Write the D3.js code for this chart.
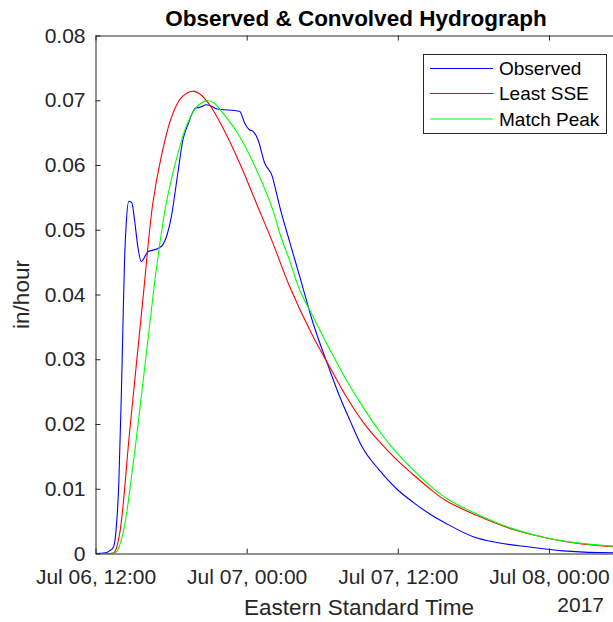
<!DOCTYPE html>
<html><head><meta charset="utf-8">
<script src="https://cdn.jsdelivr.net/npm/d3@7"></script>
<style>body{margin:0;background:#fff}</style>
</head><body><svg id="chart" width="613" height="622"></svg>
<script>
// hours after 2017-07-06 12:00 EST, value in in/hour
const observed = [[0,0],[0.8,0.0001],[1.11,0.0004],[1.43,0.001],[1.65,0.004],[1.85,0.0108],[2.04,0.0237],[2.17,0.0345],[2.30,0.0449],[2.44,0.051],[2.65,0.0544],[2.88,0.0542],[3.10,0.0515],[3.36,0.0474],[3.63,0.0451],[4.16,0.0466],[4.95,0.0471],[5.35,0.0477],[6.02,0.052],[6.54,0.0588],[6.94,0.0639],[7.33,0.0662],[7.95,0.0688],[8.26,0.0689],[8.80,0.0693],[9.19,0.0691],[9.59,0.0687],[11.44,0.0683],[11.84,0.0665],[12.18,0.0655],[12.50,0.0652],[12.90,0.0639],[13.43,0.0603],[14.04,0.0582],[14.30,0.0562],[14.62,0.0536],[15.42,0.0481],[16.21,0.0428],[17.27,0.0356],[18.60,0.0283],[19.39,0.0242],[20.19,0.0206],[21.24,0.0162],[22.57,0.0128],[23.90,0.0100],[25.22,0.0079],[26.54,0.0061],[27.87,0.0046],[29.98,0.0026],[31.84,0.0017],[34.49,0.0010],[37.14,0.0004],[41.09,0.0001],[41.4,0.0001]];
const leastSSE = [[0,0],[1.2,0],[1.51,0.0002],[1.91,0.003],[2.70,0.0186],[3.76,0.0392],[4.55,0.0541],[5.22,0.0613],[6.02,0.0673],[6.81,0.0704],[7.73,0.0714],[8.26,0.0710],[9.06,0.0693],[10.12,0.0657],[11.44,0.0603],[12.77,0.0541],[14.09,0.0479],[15.42,0.0412],[17.27,0.0335],[18.60,0.0288],[19.92,0.0242],[21.24,0.0203],[22.57,0.0172],[23.90,0.0145],[25.22,0.0122],[26.54,0.0100],[27.87,0.0081],[30.25,0.0059],[33.16,0.0037],[35.82,0.0024],[38.46,0.0015],[41.4,0.0010]];
const matchPeak = [[0,0],[1.35,0],[1.65,0.0002],[2.17,0.003],[2.96,0.0134],[3.76,0.0263],[4.43,0.0375],[4.82,0.0438],[5.62,0.0541],[6.41,0.0608],[7.21,0.066],[8.00,0.0689],[8.80,0.0699],[9.32,0.0697],[10.12,0.068],[11.44,0.0644],[12.77,0.0593],[14.09,0.0530],[14.62,0.0495],[15.42,0.0452],[16.21,0.0407],[17.27,0.0366],[18.60,0.0315],[19.92,0.0268],[21.24,0.0226],[22.57,0.0188],[23.63,0.0162],[25.22,0.0129],[26.54,0.0105],[27.87,0.0085],[30.25,0.0061],[33.16,0.0038],[35.82,0.0024],[38.46,0.0016],[41.4,0.0011]];
const seriesNames = ["Observed","Least SSE","Match Peak"];
const seriesColors = ["#0000ff","#ff0000","#00ff00"];
const yTicks = [0,0.01,0.02,0.03,0.04,0.05,0.06,0.07,0.08];
const xTickHours = [0,12,24,36];
const xTickLabels = ["Jul 06, 12:00","Jul 07, 00:00","Jul 07, 12:00","Jul 08, 00:00"];
const titleText = "Observed & Convolved Hydrograph";
const xLabelText = "Eastern Standard Time";
const yearText = "2017";
const yLabelText = "in/hour";

const start = new Date(2017,6,6,12,0,0);
const toDate = h => new Date(start.getTime() + h*3600*1000);
const L = 95.5, R = 617, T = 35.5, B = 553.5;
const font = "'Liberation Sans', Arial, sans-serif";
const axisColor = "#262626";

const svg = d3.select("#chart");
svg.append("rect").attr("width",613).attr("height",622).attr("fill","#fff");

const x = d3.scaleTime().domain([start, toDate(41.4)]).range([L, R]);
const y = d3.scaleLinear().domain([0,0.08]).range([B, T]);

svg.append("defs").append("clipPath").attr("id","clip")
  .append("rect").attr("x",L).attr("y",T).attr("width",R-L).attr("height",B-T);

// lines
const obsLine = d3.line().x(d=>x(toDate(d[0]))).y(d=>y(d[1])).curve(d3.curveMonotoneX);
const fitLine = d3.line().x(d=>x(toDate(d[0]))).y(d=>y(d[1])).curve(d3.curveCatmullRom.alpha(0.5));
const allSeries = [observed, leastSSE, matchPeak];
const g = svg.append("g").attr("clip-path","url(#clip)");
allSeries.forEach((s,i)=>{
  g.append("path").datum(s).attr("d", i===0 ? obsLine : fitLine).attr("fill","none")
   .attr("stroke",seriesColors[i]).attr("stroke-width",1.1);
});

// axes
const xAxis = d3.axisBottom(x).tickValues(xTickHours.map(toDate))
  .tickFormat((d,i)=>xTickLabels[i]).tickSizeInner(-5).tickSizeOuter(0).tickPadding(16);
const gx = svg.append("g").attr("transform",`translate(0,${B})`).call(xAxis);
const xTop = d3.axisTop(x).tickValues(xTickHours.map(toDate)).tickFormat("").tickSizeInner(-5).tickSizeOuter(0);
const gxt = svg.append("g").attr("transform",`translate(0,${T})`).call(xTop);
const yAxis = d3.axisLeft(y).tickValues(yTicks).tickFormat(d=>d===0?"0":d3.format(".2f")(d))
  .tickSizeInner(-5).tickSizeOuter(0).tickPadding(10);
const gy = svg.append("g").attr("transform",`translate(${L},0)`).call(yAxis);
[gx,gxt,gy].forEach(a=>{
  a.selectAll("path.domain").attr("stroke",axisColor).attr("stroke-width",1);
  a.selectAll(".tick line").attr("stroke",axisColor);
  a.selectAll("text").attr("fill",axisColor).style("font-family",font).style("font-size","21px");
});

// title and labels
svg.append("text").attr("x",356).attr("y",26).attr("text-anchor","middle")
  .style("font-family",font).style("font-size","22.5px").style("font-weight","bold").attr("fill","#000").text(titleText);
svg.append("text").attr("x",359).attr("y",615).attr("text-anchor","middle")
  .style("font-family",font).style("font-size","22.5px").attr("fill",axisColor).text(xLabelText);
svg.append("text").attr("x",604).attr("y",612).attr("text-anchor","end")
  .style("font-family",font).style("font-size","21px").attr("fill",axisColor).text(yearText);
svg.append("text").attr("transform",`translate(29,${(T+B)/2}) rotate(-90)`).attr("text-anchor","middle")
  .style("font-family",font).style("font-size","22.5px").attr("fill",axisColor).text(yLabelText);

// legend
const lg = svg.append("g");
lg.append("rect").attr("x",423.5).attr("y",54.5).attr("width",183).attr("height",79)
  .attr("fill","#fff").attr("stroke",axisColor).attr("stroke-width",1);
const rowY = [68.5,93.5,119];
seriesNames.forEach((n,i)=>{
  lg.append("line").attr("x1",430).attr("x2",493).attr("y1",rowY[i]).attr("y2",rowY[i])
    .attr("stroke",seriesColors[i]).attr("stroke-width",1.1);
  lg.append("text").attr("x",499).attr("y",rowY[i]).attr("dy","0.35em")
    .style("font-family",font).style("font-size","19px").attr("fill","#000").text(n);
});
</script></body></html>
